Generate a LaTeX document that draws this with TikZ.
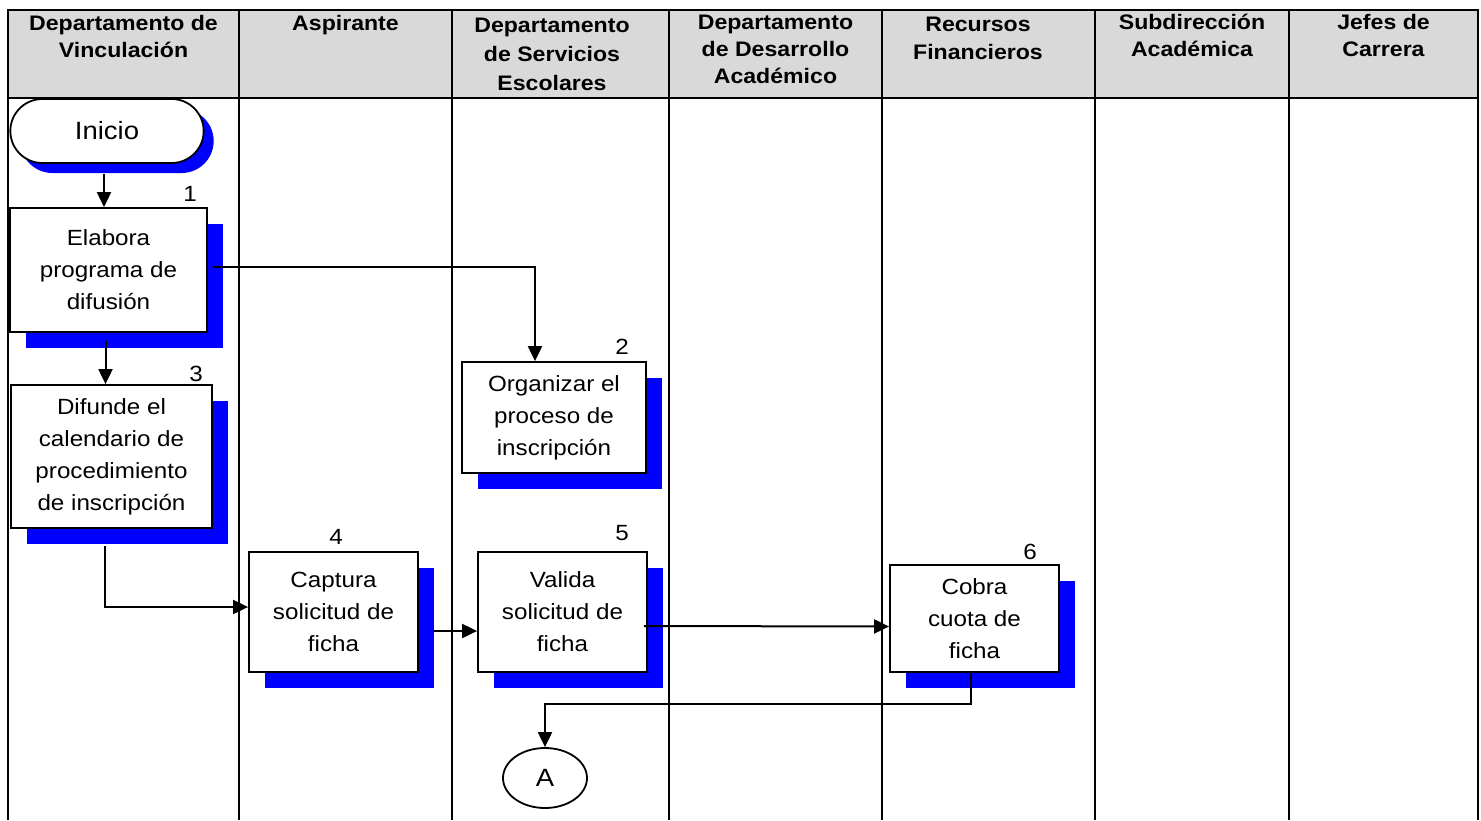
\documentclass[tikz,border=0pt]{standalone}
\usepackage{fontspec}
\setmainfont{Liberation Sans}[FakeStretch=1.1]
\usetikzlibrary{positioning, arrows.meta, shapes.misc, shapes.geometric, shadows}
\tikzset{>={Triangle[length=15pt,width=14pt]}}
\tikzset{
  lane/.style={line width=2pt},
  head/.style={font=\bfseries\fontsize{21}{27}\selectfont, align=center, anchor=north, inner sep=0pt},
  task/.style={draw, line width=1.8pt, fill=white, align=center, inner sep=0pt,
    font=\fontsize{22}{32}\selectfont,
    drop shadow={shadow xshift=16pt, shadow yshift=-16pt, fill=blue, opacity=1}},
  num/.style={font=\fontsize{22}{22}\selectfont, inner sep=0pt},
  flow/.style={->, line width=2pt},
}

\begin{document}
\begin{tikzpicture}[x=1pt,y=-1pt]
\useasboundingbox (0,0) rectangle (1481,820);
% lanes
\fill[black!15] (8,10) rectangle (1478,98);
\draw[lane] (8,820) -- (8,10) -- (1478,10) -- (1478,820);
\draw[lane] (8,98) -- (1478,98);
\foreach \x in {239,452,669,882,1095,1289}
  \draw[lane] (\x,10) -- (\x,820);
\node[head] (hvinc) at (123.5,15.5) {Departamento de\\Vinculación};
\node[head] (hasp) at (345.5,15.5) {Aspirante};
\node[head, font=\bfseries\fontsize{21}{29}\selectfont] (hserv) at (552,18) {Departamento\\de Servicios\\Escolares};
\node[head] (hdes) at (775.5,14.5) {Departamento\\de Desarrollo\\Académico};
\node[head, font=\bfseries\fontsize{21}{28}\selectfont] (hfin) at (978,17) {Recursos\\Financieros};
\node[head] (hsub) at (1192,14) {Subdirección\\Académica};
\node[head] (hjef) at (1383.5,14.5) {Jefes de\\Carrera};
% steps
\node[rounded rectangle, draw, line width=1.8pt, fill=white, minimum width=200pt,
  minimum height=64pt, font=\fontsize{25}{25}\selectfont,
  drop shadow={shadow xshift=10pt, shadow yshift=-10pt, fill=blue, opacity=1}]
  (inicio) at (107,131) {Inicio};
\node[task, minimum width=197pt, minimum height=124pt] (elabora) at (108.5,270)
  {Elabora\\programa de\\difusión};
\node[task, minimum width=184pt, minimum height=111pt] (organiza) at (554,417.5)
  {Organizar el\\proceso de\\inscripción};
\node[task, minimum width=201pt, minimum height=143pt] (difunde) at (111.5,456.5)
  {Difunde el\\calendario de\\procedimiento\\de inscripción};
\node[task, minimum width=169pt, minimum height=120pt] (captura) at (333.5,612)
  {Captura\\solicitud de\\ficha};
\node[task, minimum width=169pt, minimum height=120pt] (valida) at (562.5,612)
  {Valida\\solicitud de\\ficha};
\node[task, minimum width=169pt, minimum height=107pt] (cobra) at (974.5,618.5)
  {Cobra\\cuota de\\ficha};
\node[ellipse, draw, line width=1.8pt, minimum width=84pt, minimum height=60pt,
  inner sep=0pt, font=\fontsize{25}{25}\selectfont] (conA) at (545,778) {A};
% step numbers
\node[num] (n1) at (190,194) {1};
\node[num] (n2) at (622,347) {2};
\node[num] (n3) at (196,374) {3};
\node[num] (n4) at (336,537) {4};
\node[num] (n5) at (622,533) {5};
\node[num] (n6) at (1030,552) {6};
% flow
\draw[flow] ([xshift=-3pt,yshift=-10pt]inicio.south) -- ([xshift=-3pt]inicio.south |- elabora.north);
\draw[flow] ([xshift=5pt,yshift=3pt]elabora.east) -| ([xshift=-19pt]organiza.north);
\draw[flow] ([xshift=-3pt,yshift=-8pt]elabora.south) -- ([xshift=-3pt]elabora.south |- difunde.north);
\draw[flow] ([xshift=-7pt,yshift=-17pt]difunde.south) |- ([yshift=5pt]captura.west);
\draw[flow] ([xshift=14pt,yshift=-19pt]captura.east) -- ([yshift=-19pt]valida.west);
\draw[flow] ([xshift=-4pt,yshift=-14pt]valida.east) -- ([yshift=-8pt]cobra.west);
\draw[flow] ([xshift=-4pt]cobra.south) -- ++(0,31) -| (conA.north);
\end{tikzpicture}
\end{document}
